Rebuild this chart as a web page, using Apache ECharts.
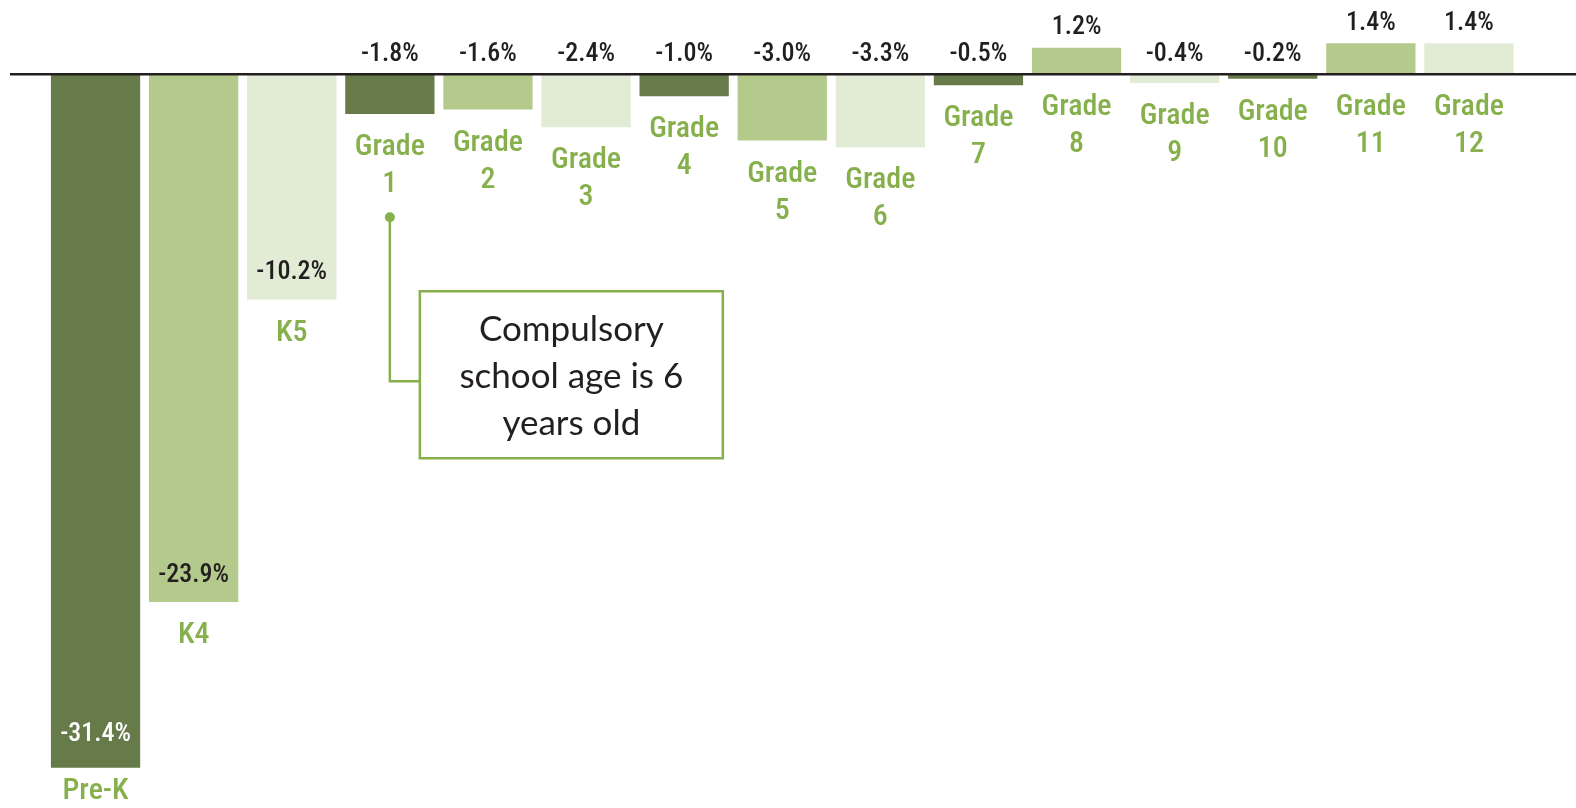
<!DOCTYPE html>
<html><head><meta charset="utf-8">
<script src="https://cdn.jsdelivr.net/npm/echarts@6/dist/echarts.min.js"></script>
<style>html,body{margin:0;padding:0;background:#fff}#c{width:1576px;height:808px}</style>
</head><body><div id="c"></div>
<script>
// ---- data ----
const categories = ['Pre-K','K4','K5','Grade 1','Grade 2','Grade 3','Grade 4','Grade 5','Grade 6','Grade 7','Grade 8','Grade 9','Grade 10','Grade 11','Grade 12'];
const values = [-31.4,-23.9,-10.2,-1.8,-1.6,-2.4,-1.0,-3.0,-3.3,-0.5,1.2,-0.4,-0.2,1.4,1.4];
const annotationLines = ['Compulsory','school age is 6','years old'];
const annotationCategory = 'Grade 1';

// ---- style ----
const palette = ['#667a4a','#b4ca8c','#e2ebd4'];
const GREEN = '#86b04b';
const INK = '#231f20';
const NARROW = "'Roboto Condensed','Open Sans Condensed',sans-serif";

const chart = echarts.init(document.getElementById('c'), null, {renderer:'canvas'});

const valueData = values.map((v,i)=>{
  const inside = v < -5;
  return {
    value: v,
    itemStyle: {color: palette[i%3]},
    label: {
      position: inside ? 'insideBottom' : 'top',
      distance: inside ? (v < -30 ? 20 : 14) : 7,
      color: (inside && i%3===0) ? '#ffffff' : INK
    }
  };
});

const nameData = values.map(v => ({
  value: v,
  label: {distance: v < -30 ? 5 : 15}
}));

chart.setOption({
  animation: false,
  grid: {left: 46.5, right: 58, top: 8, bottom: 5},
  xAxis: {type:'category', data: categories, show:false},
  yAxis: {type:'value', min:-33, max:3, show:false, splitLine:{show:false}},
  series: [
    {
      type:'bar', data: valueData, barCategoryGap:'9%', barGap:'-100%', silent:true,
      label: {show:true, fontFamily:NARROW, fontSize:26, lineHeight:26, fontWeight:500,
        formatter: p => p.value.toFixed(1) + '%'}
    },
    {
      type:'bar', data: nameData, barCategoryGap:'9%', barGap:'-100%', silent:true,
      itemStyle:{color:'rgba(0,0,0,0)'},
      label: {show:true, position:'bottom', distance:15, color:GREEN, fontFamily:NARROW,
        fontSize:30, lineHeight:37, fontWeight:500, align:'center',
        formatter: p => p.name.replace(' ', '\n')}
    }
  ]
});

const y0 = chart.convertToPixel({gridIndex:0}, [0, 0])[1];
const ai = categories.indexOf(annotationCategory);
const cx = chart.convertToPixel({gridIndex:0}, [ai, 0])[0];
const dotY = y0 + 143, elbowY = y0 + 307;
const boxLeft = cx + 30, boxTop = y0 + 217, boxW = 303, boxH = 167;

chart.setOption({
  graphic: [
    {type:'line', z:100, shape:{x1:10, y1:y0, x2:1576, y2:y0}, style:{stroke:INK, lineWidth:2.4}},
    {type:'polyline', z:50, shape:{points:[[cx,dotY],[cx,elbowY],[boxLeft,elbowY]]}, style:{stroke:GREEN, lineWidth:2.5, fill:null}},
    {type:'circle', z:51, shape:{cx:cx, cy:dotY, r:5}, style:{fill:GREEN}},
    {type:'rect', z:52, shape:{x:boxLeft, y:boxTop, width:boxW, height:boxH}, style:{fill:'#fff', stroke:GREEN, lineWidth:2.5}},
    {type:'text', z:53, x: boxLeft + boxW/2, y: boxTop + boxH/2 + 2,
      style:{text: annotationLines.join('\n'), fill:INK, fontFamily:"Lato, 'Noto Sans', sans-serif",
        fontSize:35, lineHeight:47, align:'center', verticalAlign:'middle'}}
  ]
});
</script></body></html>
